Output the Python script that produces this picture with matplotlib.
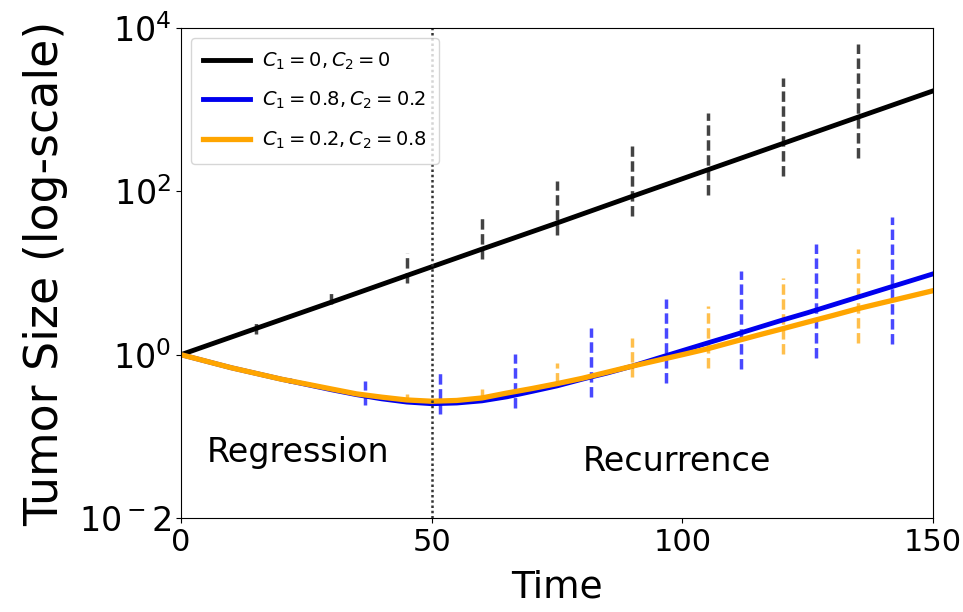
import numpy as np
import matplotlib
matplotlib.use('Agg')
import matplotlib.pyplot as plt

# mean curves
t_ctrl = [0, 15, 30, 45, 60, 75, 90, 105, 120, 135, 150]
y_ctrl = [1.0, 2.1, 4.4, 9.3, 19.6, 41, 87, 183, 385, 810, 1700]

t_curve = [0, 5, 10, 15, 20, 25, 30, 35, 40, 45, 50, 55, 60, 65, 70, 75,
           80, 85, 90, 95, 100, 105, 110, 115, 120, 125, 130, 135, 140, 145, 150]
y_blue = [1.0, 0.832, 0.692, 0.589, 0.501, 0.432, 0.372, 0.324, 0.288, 0.263,
          0.251, 0.256, 0.272, 0.305, 0.355, 0.415, 0.501, 0.596, 0.724, 0.902,
          1.12, 1.39, 1.72, 2.14, 2.66, 3.27, 4.07, 5.07, 6.31, 7.85, 9.77]
y_orange = [1.0, 0.832, 0.692, 0.589, 0.501, 0.437, 0.380, 0.331, 0.302, 0.279,
            0.269, 0.275, 0.295, 0.339, 0.385, 0.442, 0.513, 0.610, 0.724, 0.851,
            1.0, 1.18, 1.43, 1.73, 2.08, 2.51, 3.02, 3.66, 4.34, 5.13, 6.08]

# error bar ranges (lower / upper)
t_err_ctrl = [15, 30, 45, 60, 75, 90, 105, 120, 135]
lo_ctrl = [1.8, 4.2, 7.6, 15, 29, 50, 89, 155, 258]
hi_ctrl = [2.5, 6.0, 17.7, 48, 135, 363, 920, 2460, 6400]

t_err_blue = [6.7, 21.7, 36.7, 51.7, 66.7, 81.7, 96.7, 111.7, 126.7, 141.7]
lo_blue = [0.77, 0.45, 0.24, 0.19, 0.22, 0.30, 0.45, 0.67, 0.92, 1.36]
hi_blue = [0.80, 0.52, 0.48, 0.59, 1.03, 2.14, 4.85, 10.7, 22.9, 49]

t_err_orange = [15, 30, 45, 60, 75, 90, 105, 120, 135]
lo_orange = [0.58, 0.37, 0.27, 0.29, 0.45, 0.54, 0.69, 1.03, 1.40]
hi_orange = [0.62, 0.39, 0.33, 0.38, 0.78, 1.61, 3.9, 8.8, 19.9]

labels = [r'$C_1=0, C_2=0$', r'$C_1=0.8, C_2=0.2$', r'$C_1=0.2, C_2=0.8$']

fig = plt.figure(figsize=(9.63, 6.12), dpi=100)
ax = fig.add_axes([0.188, 0.1536, 0.781, 0.8006])

dash = (0, (3, 1.3))
ax.vlines(t_err_ctrl, lo_ctrl, hi_ctrl, colors='#222222', linestyles=[dash], lw=2.5, alpha=0.85)
ax.vlines(t_err_blue, lo_blue, hi_blue, colors='#1a1aff', linestyles=[dash], lw=2.5, alpha=0.8)
ax.vlines(t_err_orange, lo_orange, hi_orange, colors='orange', linestyles=[dash], lw=2.5, alpha=0.7)

ax.plot(t_ctrl, y_ctrl, color='black', lw=3.5, label=labels[0])
ax.plot(t_curve, y_blue, color='#0000ee', lw=3.5, label=labels[1])
ax.plot(t_curve, y_orange, color='orange', lw=3.8, label=labels[2])

ax.axvline(50, color='#333333', lw=1.8, linestyle=(0, (1, 1.1)))

ax.set_yscale('log')
ax.set_xlim(0, 150)
ax.set_ylim(1e-2, 1e4)
ax.set_yticks([1e-2, 1, 1e2, 1e4], labels=[r'$10^-2$', r'$10^0$', r'$10^2$', r'$10^4$'])
ax.yaxis.set_minor_locator(matplotlib.ticker.NullLocator())
ax.set_xticks([0, 50, 100, 150])
ax.tick_params(axis='x', labelsize=22)
ax.tick_params(axis='y', labelsize=24)

ax.text(5.2, 0.064, 'Regression', fontsize=24, va='center')
ax.text(80.2, 0.049, 'Recurrence', fontsize=24, va='center')

ax.set_xlabel('Time', fontsize=27, labelpad=9)
ax.set_ylabel('Tumor Size (log-scale)', fontsize=33, labelpad=8)
ax.legend(loc='upper left', fontsize=14, labelspacing=0.95, handlelength=2.4,
          handletextpad=0.6, borderpad=0.65)

fig.savefig('out.png', dpi=100)
